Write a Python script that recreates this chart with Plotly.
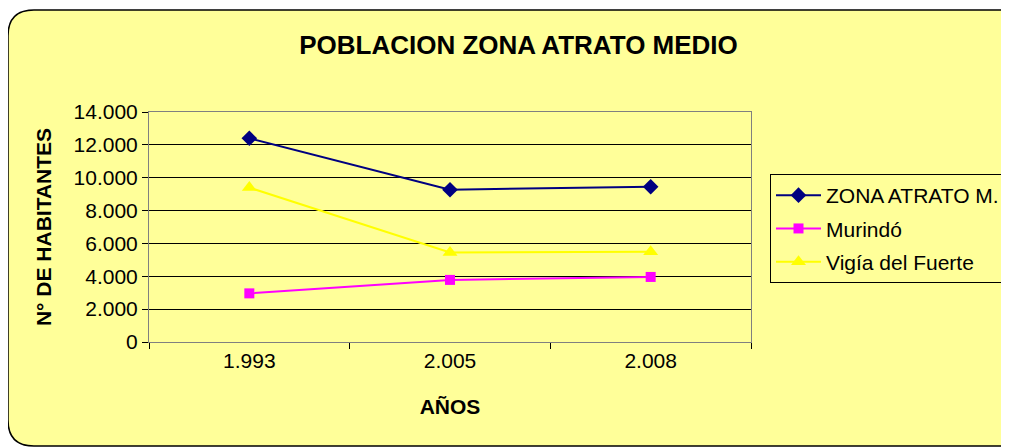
import plotly.graph_objects as go

# Data
years = ["1.993", "2.005", "2.008"]
zona_atrato = [12400, 9270, 9450]
murindo = [2960, 3780, 3960]
vigia = [9400, 5450, 5500]

OFF = 8  # page body margin in the browser
W, H = 1009 - OFF, 448 - OFF
L, R, T, B = 149 - OFF, 751 - OFF, 112 - OFF, 342 - OFF  # plot area in pixels


def px(x):
    return (x - OFF - L) / (R - L)


def py(y):
    return (B - (y - OFF)) / (B - T)


fig = go.Figure()
fig.add_trace(go.Scatter(
    x=years, y=zona_atrato, name="ZONA ATRATO M.", mode="lines+markers",
    legendgroup="a",
    line=dict(color="#000080", width=2),
    marker=dict(symbol="diamond", size=12, color="#000080")))
fig.add_trace(go.Scatter(
    x=years, y=murindo, name="Murindó", mode="lines+markers",
    legendgroup="b",
    line=dict(color="#FF00FF", width=2),
    marker=dict(symbol="square", size=10, color="#FF00FF")))
fig.add_trace(go.Scatter(
    x=years, y=vigia, name="Vigía del Fuerte", mode="lines+markers",
    legendgroup="c",
    line=dict(color="#FFFF00", width=2),
    marker=dict(symbol="triangle-up", size=13, color="#FFFF00")))

# rounded chart area
x0, y0, x1, y1, r = 8, 10, 1060, 446, 26
path = (f"M {px(x0 + r)},{py(y0)} L {px(x1 - r)},{py(y0)} "
        f"Q {px(x1)},{py(y0)} {px(x1)},{py(y0 + r)} L {px(x1)},{py(y1 - r)} "
        f"Q {px(x1)},{py(y1)} {px(x1 - r)},{py(y1)} L {px(x0 + r)},{py(y1)} "
        f"Q {px(x0)},{py(y1)} {px(x0)},{py(y1 - r)} L {px(x0)},{py(y0 + r)} "
        f"Q {px(x0)},{py(y0)} {px(x0 + r)},{py(y0)} Z")
fig.add_shape(type="path", path=path, xref="paper", yref="paper",
              fillcolor="#FFFF99", line=dict(color="black", width=1.5),
              layer="below")

fig.update_layout(
    width=W, height=H,
    margin=dict(l=L, r=W - R, t=T, b=H - B, autoexpand=False),
    paper_bgcolor="white",
    plot_bgcolor="#C0C0C0",
    separators=",.",
    font=dict(family="Liberation Sans, Arial, sans-serif", size=21, color="black"),
    title=dict(text="<b>POBLACION ZONA ATRATO MEDIO</b>", x=0.51, xanchor="center",
               y=(H - 37) / H, yanchor="middle", font=dict(size=26)),
    legend=dict(x=px(770), y=py(174), xanchor="left", yanchor="top",
                bgcolor="#FFFF99", bordercolor="black", borderwidth=1,
                font=dict(size=21), itemwidth=45, tracegroupgap=3),
    showlegend=True,
)

fig.update_xaxes(
    type="category", range=[-0.5, 2.5], tickson="boundaries",
    ticks="outside", ticklen=6, tickcolor="black",
    showgrid=False, showline=True, linecolor="#808080", mirror=True,
    title=dict(text="<b>AÑOS</b>", standoff=28, font=dict(size=21)),
)
fig.update_yaxes(
    range=[0, 14000], dtick=2000, tickformat=",d",
    ticks="outside", ticklen=6, tickcolor="black",
    showgrid=True, gridcolor="black", gridwidth=1,
    showline=True, linecolor="#808080", mirror=True, zeroline=False,
    title=dict(text="<b>N° DE HABITANTES</b>", standoff=16, font=dict(size=21)),
)

fig.write_html("out.html")
